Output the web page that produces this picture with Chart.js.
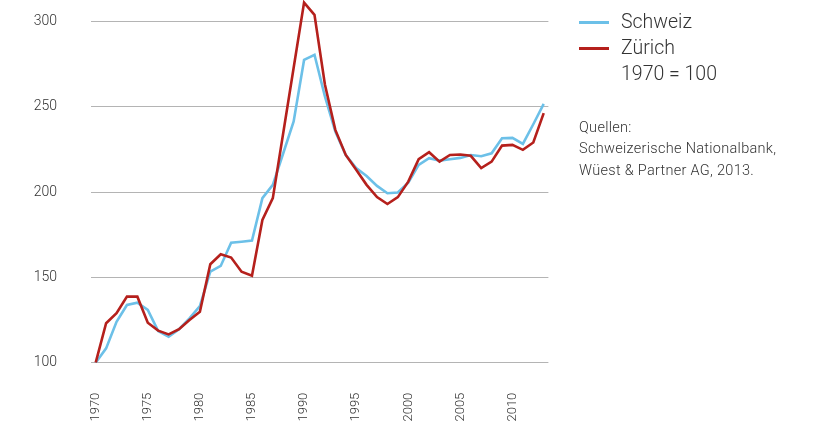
<!DOCTYPE html>
<html>
<head>
<meta charset="utf-8">
<script src="https://cdn.jsdelivr.net/npm/chart.js@4.4.1/dist/chart.umd.min.js"></script>
<style>
  html, body { margin: 0; padding: 0; background: #fff; overflow: hidden; }
  #wrap { position: relative; width: 814px; height: 426px; font-family: Roboto, "Open Sans", sans-serif; }
  canvas { position: absolute; left: 0; top: 0; }
  .lg { position: absolute; left: 579px; width: 30px; height: 3px; }
  .lt { position: absolute; left: 621px; font-size: 19.5px; color: #333; font-weight: 300; line-height: 1; }
  .src { position: absolute; left: 579px; top: 117px; font-size: 14.5px; letter-spacing: 0.3px; color: #333; line-height: 21.3px; font-weight: 300; }
</style>
</head>
<body>
<div id="wrap">
  <canvas id="c" width="814" height="426"></canvas>
  <div class="lg" style="top:21px;background:#6cc0e8"></div>
  <div class="lg" style="top:46.5px;background:#b5201c"></div>
  <div class="lt" style="top:12px">Schweiz</div>
  <div class="lt" style="top:38px">Zürich</div>
  <div class="lt" style="top:64px">1970 = 100</div>
  <div class="src">Quellen:<br>Schweizerische Nationalbank,<br>Wüest &amp; Partner AG, 2013.</div>
</div>
<script>
const years = [];
for (let y = 1970; y <= 2013; y++) years.push(y);

const schweiz = [100, 108.4, 124, 133.8, 135.2, 130.9, 118.6, 115.2, 119.6, 126,
  133.2, 153.3, 156.7, 170.3, 170.9, 171.5, 196.4, 204.2, 222.7, 241.3,
  277.4, 280.4, 256, 235.4, 221.7, 214, 209.4, 203.6, 199.3, 199.7,
  205.5, 215.9, 219.8, 218.4, 219.2, 220, 221.7, 221, 222.7, 231.5,
  231.7, 228.2, 239.7, 251.6];

const zuerich = [100, 123.1, 129, 138.7, 138.7, 123.4, 118.8, 116.6, 119.6, 125,
  129.9, 157.7, 163.5, 161.6, 153.3, 151, 183.6, 196.4, 234.6, 272.8,
  311, 303.8, 263, 236.4, 221.7, 213, 204.2, 197, 193, 197,
  206.1, 219.2, 223.3, 217.8, 221.7, 222, 221.2, 214, 217.8, 227.2,
  227.6, 224.7, 229, 246.2];

const xTicks = [1970, 1975, 1980, 1985, 1990, 1995, 2000, 2005, 2010];
const yTicks = [100, 150, 200, 250, 300];

const toPts = vals => years.map((yr, i) => ({ x: yr, y: vals[i] }));

new Chart(document.getElementById('c'), {
  type: 'line',
  data: {
    datasets: [
      { label: 'Zürich', data: toPts(zuerich), borderColor: '#b5201c', borderWidth: 2.6, pointRadius: 0, tension: 0, fill: false },
      { label: 'Schweiz', data: toPts(schweiz), borderColor: '#6cc0e8', borderWidth: 2.6, pointRadius: 0, tension: 0, fill: false }
    ]
  },
  options: {
    responsive: false,
    animation: false,
    layout: { padding: { top: 0, right: 265.6, left: 0, bottom: 0 } },
    plugins: { legend: { display: false }, tooltip: { enabled: false } },
    scales: {
      x: {
        type: 'linear',
        min: 1969.55,
        max: 2013.45,
        afterBuildTicks: s => { s.ticks = xTicks.map(v => ({ value: v })); },
        afterFit: s => { s.height = 426 - 362.7; s.paddingLeft = 0; s.paddingRight = 0; },
        grid: { display: false, drawTicks: false },
        border: { display: false },
        ticks: {
          minRotation: 90, maxRotation: 90, autoSkip: false, padding: 30,
          color: '#333', font: { family: 'Roboto', size: 13, weight: '300' },
          callback: v => String(v)
        }
      },
      y: {
        min: 100,
        max: 312.5,
        afterBuildTicks: s => { s.ticks = yTicks.map(v => ({ value: v })); },
        afterFit: s => { s.width = 91; s.paddingTop = 0; s.paddingBottom = 0; },
        grid: { color: '#b4b4b4', lineWidth: 1, drawTicks: false },
        border: { display: false },
        ticks: {
          padding: 34, color: '#333', font: { family: 'Roboto', size: 14, weight: '300' },
          callback: v => String(v)
        }
      }
    }
  }
});
</script>
</body>
</html>
